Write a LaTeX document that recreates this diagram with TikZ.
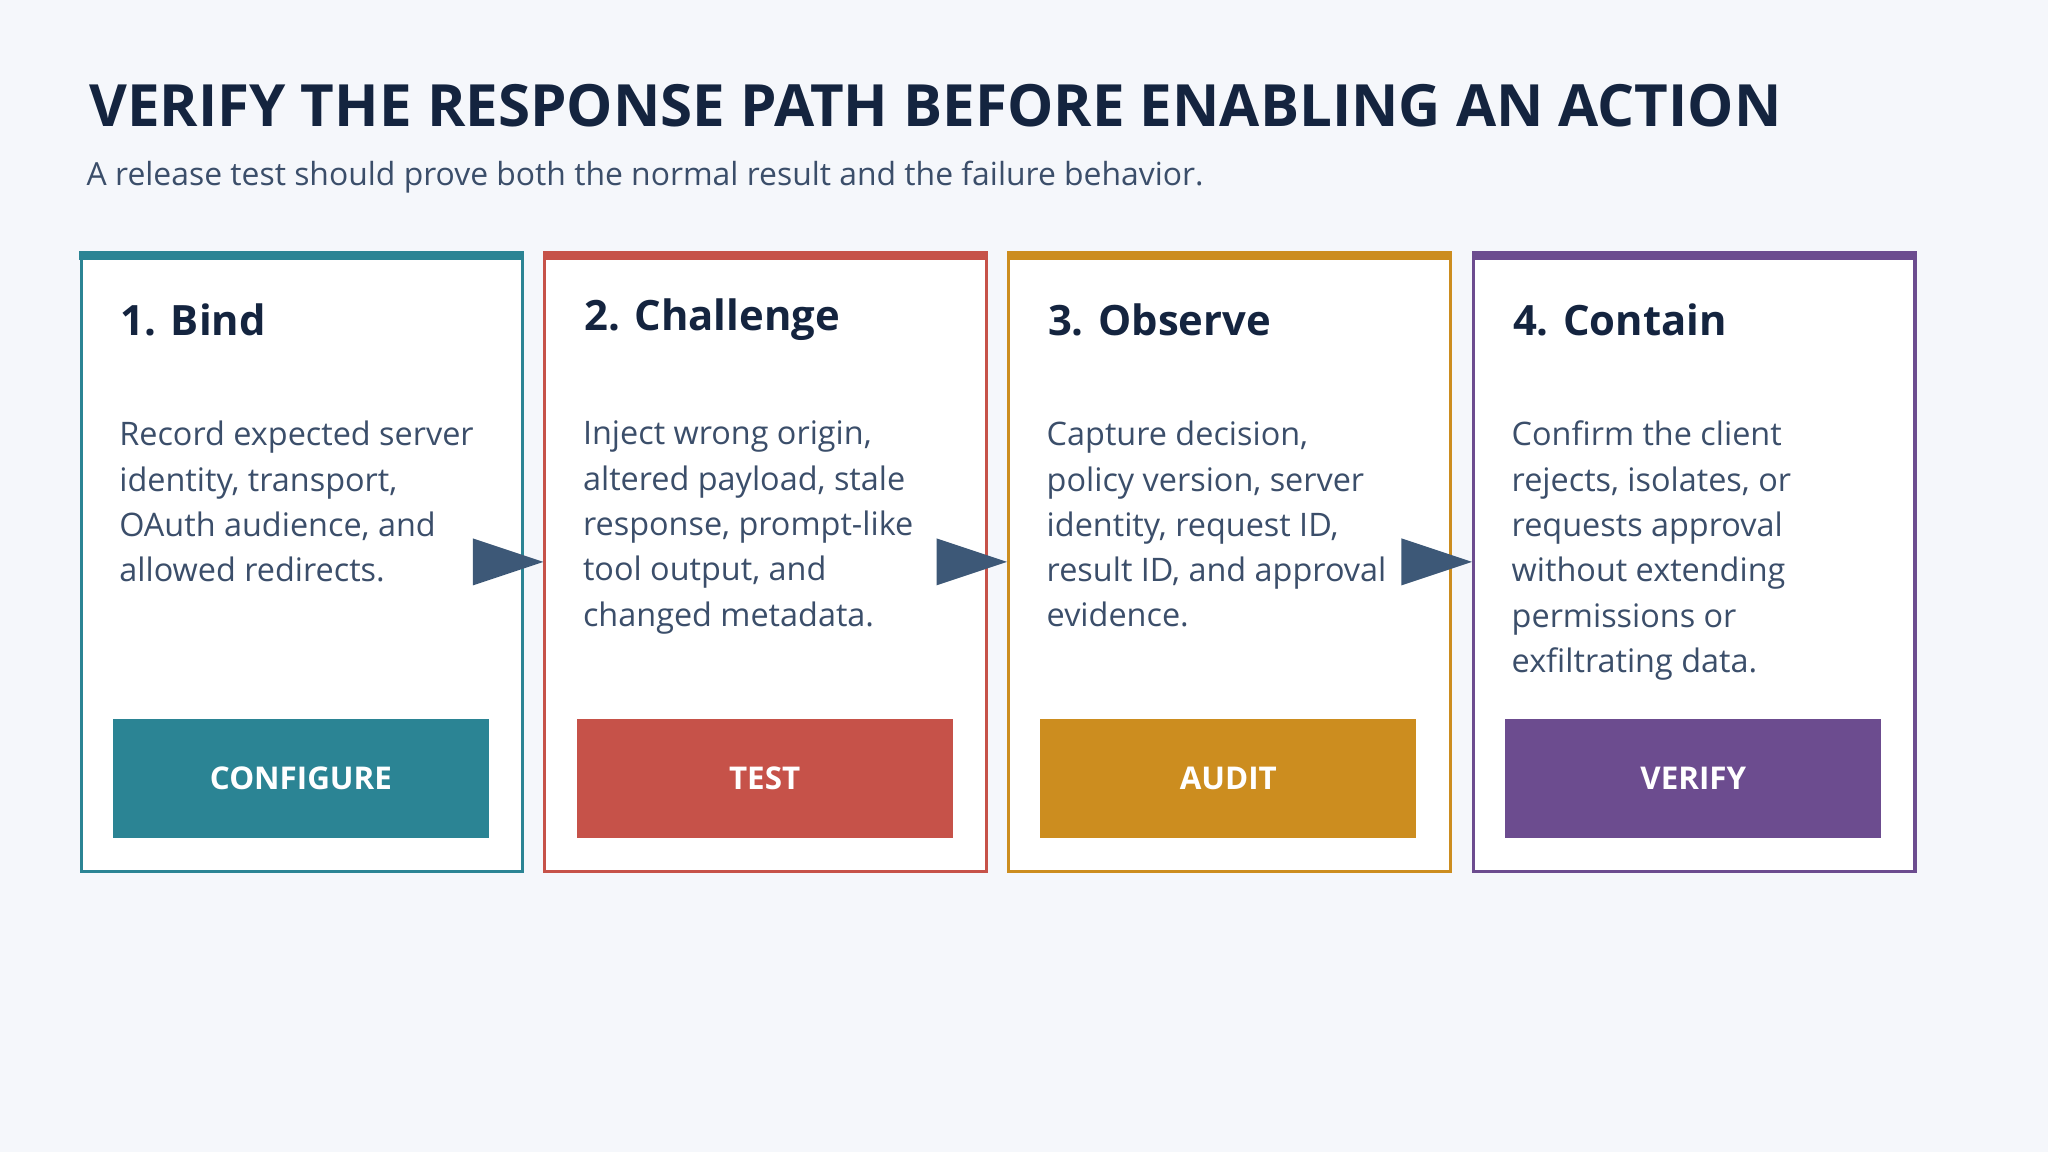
\documentclass[tikz,border=0pt]{standalone}
\usepackage{fontspec}
\setmainfont{Open Sans}
\definecolor{bg}{HTML}{F5F7FB}
\definecolor{ttl}{HTML}{14243F}
\definecolor{txt}{HTML}{3B4E6A}
\definecolor{arr}{HTML}{3D5877}
\definecolor{cA}{HTML}{2B8494}
\definecolor{cB}{HTML}{C65249}
\definecolor{cC}{HTML}{CC8D1F}
\definecolor{cD}{HTML}{6C4C8F}
\begin{document}
\begin{tikzpicture}[x=0.5pt,y=-0.5pt,
  card/.style={draw=#1,line width=1.2pt,fill=white,minimum width=169pt,minimum height=237pt,inner sep=0pt,anchor=north west},
  bar/.style={fill=#1,draw=none,minimum width=169.6pt,minimum height=3.5pt,inner sep=0pt,anchor=north west},
  head/.style={anchor=west,text=ttl,font=\fontsize{16}{19}\selectfont\bfseries,inner sep=0pt},
  body/.style={anchor=north west,text=txt,align=left,font=\fontsize{12.4}{17.35}\selectfont,inner sep=0pt},
  btn/.style={fill=#1,minimum width=144pt,minimum height=45.5pt,inner sep=0pt,anchor=north west,text=white,font=\fontsize{12}{14}\selectfont\bfseries},
  tri/.style={fill=arr}]
\fill[bg] (0,0) rectangle (1568,882);
\useasboundingbox (0,0) rectangle (1568,882);
\node[anchor=base west,text=ttl,font=\fontsize{22.3}{26}\selectfont\bfseries,inner sep=0pt] (title) at (68,97) {VERIFY THE RESPONSE PATH BEFORE ENABLING AN ACTION};
\node[anchor=base west,text=txt,font=\fontsize{12.2}{15}\selectfont,inner sep=0pt] (sub) at (66,142) {A release test should prove both the normal result and the failure behavior.};

\foreach \i/\x/\c/\h/\b/\t in {
 1/61/cA/1. Bind/{Record expected server\\identity, transport,\\OAuth audience, and\\allowed redirects.}/CONFIGURE,
 2/416/cB/2. Challenge/{Inject wrong origin,\\altered payload, stale\\response, prompt-like\\tool output, and\\changed metadata.}/TEST,
 3/771/cC/3. Observe/{Capture decision,\\policy version, server\\identity, request ID,\\result ID, and approval\\evidence.}/AUDIT,
 4/1127/cD/4. Contain/{Confirm the client\\rejects, isolates, or\\requests approval\\without extending\\permissions or\\exfiltrating data.}/VERIFY}{
  \node[card=\c] (card\i) at (\x,192) {};
  \node[bar=\c] (bar\i) at (\x-0.6,191.4) {};
  \node[head] (head\i) at (\x+31,245) {\h};
  \node[body] (body\i) at (\x+30,322) {\b};
  \node[btn=\c] (btn\i) at (\x+25,550) {\t};
}
\foreach \a/\b in {1/2,2/3,3/4}{
  \fill[tri] (card\b.west) -- ([shift={(-54,-18)}]card\b.west) -- ([shift={(-54,18)}]card\b.west) -- cycle;
}
\end{tikzpicture}
\end{document}
